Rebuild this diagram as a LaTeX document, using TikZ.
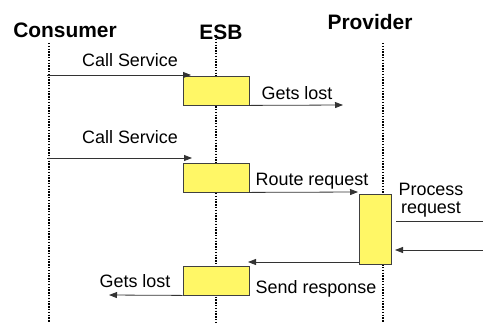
\documentclass[tikz,border=0pt]{standalone}
\usepackage{fontspec}
\setmainfont{Liberation Sans}
\usetikzlibrary{arrows.meta}
\begin{document}
\begin{tikzpicture}[x=1bp,y=-1bp,
  title/.style={font=\fontsize{21}{23}\selectfont\bfseries, inner sep=0pt},
  lbl/.style={font=\fontsize{18}{20}\selectfont, inner sep=0pt},
  life/.style={dash pattern=on 1.4bp off 1.4bp, line width=1.4bp, black},
  act/.style={draw=black!75, fill=yellow!60!white, line width=0.8bp, inner sep=0pt, minimum width=66bp, minimum height=29bp},
  msg/.style={draw=black!80, line width=0.8bp, -{Triangle[length=8bp,width=6bp]}},
  plain/.style={draw=black!80, line width=0.8bp}]
\useasboundingbox (0,0) rectangle (483,323);
% titles
\node[title] (tc) at (65,30) {Consumer};
\node[title] (te) at (221,32) {ESB};
\node[title] (tp) at (370,22) {Provider};
% lifelines
\coordinate (c0) at (49,43); \coordinate (c1) at (49,323);
\coordinate (e0) at (216,39); \coordinate (e1) at (216,323);
\coordinate (p0) at (383,43); \coordinate (p1) at (383,323);
\draw[life] (c0) -- (c1);
\draw[life] (e0) -- (e1);
\draw[life] (p0) -- (p1);
% activation boxes
\node[act] (b1) at (216,90.5) {};
\node[act] (b2) at (216,177.5) {};
\node[act] (b3) at (216,280.5) {};
\node[act, minimum width=32bp, minimum height=70bp] (pb) at (375,229) {};
% message 1
\coordinate (m1s) at (47,75); \coordinate (m1e) at (191,75);
\draw[msg] (m1s) -- (m1e);
\node[lbl] (l1) at (130,60) {Call Service};
% gets lost 1
\coordinate (m2e) at (343,105);
\draw[msg] (b1.south east) -- (m2e);
\node[lbl] (l2) at (297,93) {Gets lost};
% message 2
\coordinate (m3s) at (47,158); \coordinate (m3e) at (192,158);
\draw[msg] (m3s) -- (m3e);
\node[lbl] (l3) at (130,137) {Call Service};
% route request
\coordinate (m4e) at (358,192);
\draw[msg] (b2.south east) -- (m4e);
\node[lbl] (l4) at (312,181) {Route request};
% process request
\node[lbl, align=center] (l5) at (431,200) {Process\\[-2bp]request};
\coordinate (u0) at (396,221); \coordinate (u1) at (483,221);
\draw[plain] (u0) -- (u1);
\coordinate (r0) at (483,250); \coordinate (r1) at (395,250);
\draw[msg] (r0) -- (r1);
% response
\coordinate (m7s) at (359,262); \coordinate (m7e) at (248,262);
\draw[msg] (m7s) -- (m7e);
\node[lbl] (l7) at (316,289) {Send response};
% gets lost 2
\coordinate (m8e) at (109,295);
\draw[msg] (b3.south west) -- (m8e);
\node[lbl] (l8) at (135,281) {Gets lost};
\end{tikzpicture}
\end{document}
